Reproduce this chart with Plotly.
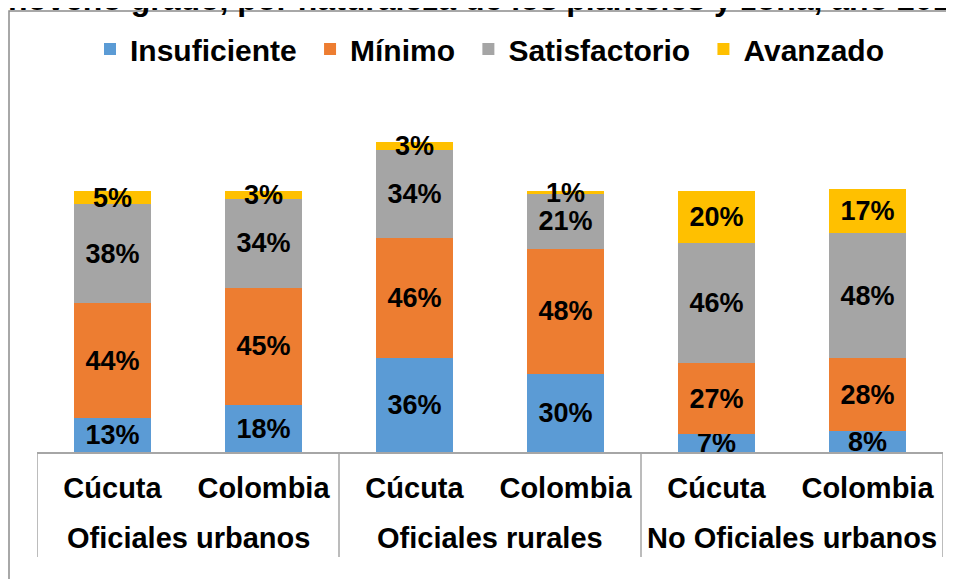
import plotly.graph_objects as go

grupos = ["Oficiales urbanos", "Oficiales urbanos",
          "Oficiales rurales", "Oficiales rurales",
          "No Oficiales urbanos", "No Oficiales urbanos"]
lugares = ["Cúcuta", "Colombia", "Cúcuta", "Colombia", "Cúcuta", "Colombia"]

insuficiente = [13, 18, 36, 30, 7, 8]
minimo = [44, 45, 46, 48, 27, 28]
satisfactorio = [38, 34, 34, 21, 46, 48]
avanzado = [5, 3, 3, 1, 20, 17]

series = [("Insuficiente", insuficiente, "#5B9BD5"),
          ("Mínimo", minimo, "#ED7D31"),
          ("Satisfactorio", satisfactorio, "#A5A5A5"),
          ("Avanzado", avanzado, "#FFC000")]

FONT = "Liberation Sans, Arial, sans-serif"
pos = list(range(len(lugares)))

fig = go.Figure()
for k, (name, vals, color) in enumerate(series):
    # a trailing no-break space widens the gap between legend items
    label = name + ("\u00a0" if k < len(series) - 1 else "")
    fig.add_trace(go.Bar(
        x=pos, y=vals, name=label,
        marker=dict(color=color, line=dict(width=0)),
        text=[f"{v}%" for v in vals],
        textposition="inside", insidetextanchor="middle",
        textfont=dict(family=FONT, size=27, color="black", weight="bold"),
        constraintext="none", cliponaxis=False,
    ))

# the page body adds an 8px offset, so the figure is 8px smaller
OFF = 8
W, H = 954 - OFF, 579 - OFF
# plot area on the page: x 37..943, y 100..452
L, R, T, B = 37 - OFF, 954 - 943, 100 - OFF, 579 - 452
pw, ph = W - L - R, H - T - B

def px(x):
    return (x - OFF - L) / pw

def py(y):
    return (H - B - (y - OFF)) / ph

fig.update_layout(
    width=W, height=H,
    margin=dict(l=L, r=R, t=T, b=B, autoexpand=False),
    barmode="stack", bargap=0.49,
    plot_bgcolor="white", paper_bgcolor="white",
    font=dict(family=FONT, size=28, color="black", weight="bold"),
    uniformtext=dict(minsize=27, mode="show"),
    legend=dict(orientation="h", x=0.5, xanchor="center",
                y=py(49), yanchor="middle",
                font=dict(size=30, weight="bold"), itemwidth=30,
                traceorder="normal"),
    xaxis=dict(range=[-0.5, len(pos) - 0.5], tickvals=pos, ticktext=lugares,
               showline=True, linecolor="#A6A6A6", linewidth=1.5,
               showgrid=False, zeroline=False, ticks="", automargin=False,
               ticklabelstandoff=9,
               tickfont=dict(size=29, weight="bold")),
    yaxis=dict(range=[0, 135], visible=False, showgrid=False, zeroline=False),
    title=dict(text="noveno grado, por naturaleza de los planteles y zona, año 2016",
               x=0, xanchor="left", xref="container",
               y=1 - 2 / H, yanchor="bottom", yref="container",
               font=dict(size=32, weight="bold", color="black")),
)

# group labels and dividers
for i in range(0, len(pos), 2):
    fig.add_annotation(x=(pos[i] + pos[i + 1]) / 2, xref="x",
                       y=py(538), yref="paper", yanchor="middle",
                       text=grupos[i], showarrow=False,
                       font=dict(size=29, weight="bold", color="black"))
for b in [pos[0] - 0.5, pos[1] + 0.5, pos[3] + 0.5, pos[5] + 0.5]:
    fig.add_shape(type="line", xref="x", yref="paper",
                  x0=b, x1=b, y0=0, y1=py(557),
                  line=dict(color="#A6A6A6", width=1.5))

# chart border
fig.add_shape(type="rect", xref="paper", yref="paper",
              x0=px(9), x1=px(970), y0=py(600), y1=py(11),
              line=dict(color="#8C8C8C", width=1.5), layer="below")

fig.write_html("out.html")
